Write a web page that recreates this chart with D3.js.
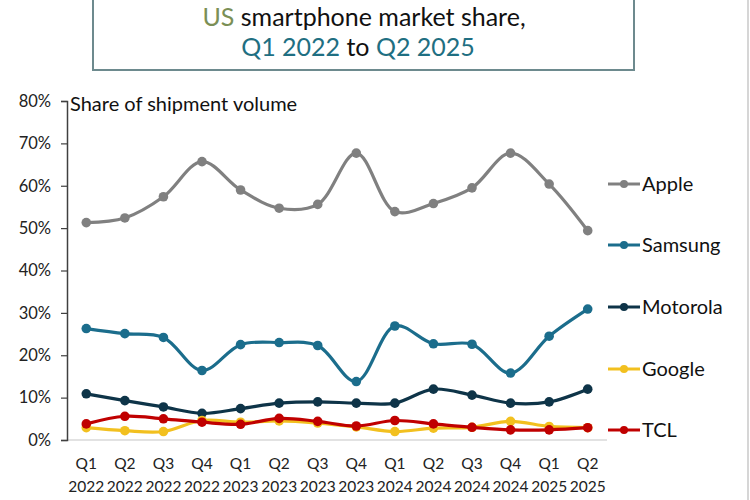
<!DOCTYPE html>
<html>
<head>
<meta charset="utf-8">
<script src="https://cdn.jsdelivr.net/npm/d3@7"></script>
<style>
  body { margin: 0; background: #fff; }
  svg { display: block; font-family: Lato, "Open Sans", sans-serif; }
</style>
</head>
<body>
<svg></svg>
<script>
const size = { w: 750, h: 500 };
const margin = { t: 101, r: 143, b: 60, l: 67 };

// data (% of shipments)
const quarters = ["Q1", "Q2", "Q3", "Q4", "Q1", "Q2", "Q3", "Q4", "Q1", "Q2", "Q3", "Q4", "Q1", "Q2"];
const years = ["2022", "2022", "2022", "2022", "2023", "2023", "2023", "2023", "2024", "2024", "2024", "2024", "2025", "2025"];
const brands = ["Apple", "Samsung", "Motorola", "Google", "TCL"];
const apple = [51.3, 52.4, 57.4, 65.7, 59.0, 54.7, 55.6, 67.7, 53.9, 55.8, 59.5, 67.7, 60.4, 49.4];
const samsung = [26.3, 25.1, 24.2, 16.4, 22.5, 23.0, 22.3, 13.8, 26.9, 22.7, 22.6, 15.8, 24.5, 30.9];
const motorola = [10.9, 9.3, 7.8, 6.3, 7.4, 8.7, 9.0, 8.7, 8.7, 12.0, 10.6, 8.7, 9.0, 12.0];
const google = [2.9, 2.2, 2.0, 4.6, 4.2, 4.5, 4.0, 3.1, 2.0, 2.8, 3.0, 4.4, 3.2, 2.9];
const tcl = [3.8, 5.6, 5.0, 4.2, 3.7, 5.1, 4.4, 3.3, 4.6, 3.8, 3.0, 2.4, 2.4, 2.9];
const yTicks = [0, 10, 20, 30, 40, 50, 60, 70, 80];
const colors = ["#808080", "#1b6d8c", "#0e3448", "#f2c01f", "#c00000"];

const seriesList = [apple, samsung, motorola, google, tcl];

const svg = d3.select("svg").attr("width", size.w).attr("height", size.h);

// outer frame edge on the right
svg.append("line")
  .attr("x1", 748).attr("x2", 748).attr("y1", 0).attr("y2", size.h)
  .attr("stroke", "#c8c8c8").attr("stroke-width", 1.5);

// title box
const titleG = svg.append("g");
titleG.append("rect")
  .attr("x", 93).attr("y", -5).attr("width", 541).attr("height", 75)
  .attr("fill", "none").attr("stroke", "#6d8a8e").attr("stroke-width", 2);

const t1 = titleG.append("text").attr("x", 364).attr("y", 26)
  .attr("text-anchor", "middle").attr("font-size", 25);
t1.append("tspan").attr("fill", "#7b8f56").text("US");
t1.append("tspan").attr("fill", "#111").text(" smartphone market share,");

const t2 = titleG.append("text").attr("x", 358).attr("y", 56)
  .attr("text-anchor", "middle").attr("font-size", 25);
t2.append("tspan").attr("fill", "#1f6f82").text("Q1 2022");
t2.append("tspan").attr("fill", "#111").text(" to ");
t2.append("tspan").attr("fill", "#1f6f82").text("Q2 2025");

// scales
const x = d3.scaleBand()
  .domain(d3.range(quarters.length))
  .range([margin.l, size.w - margin.r]);

const y = d3.scaleLinear()
  .domain([0, 80])
  .range([size.h - margin.b, margin.t]);

// x baseline
svg.append("line")
  .attr("x1", x.range()[0]).attr("x2", x.range()[1])
  .attr("y1", y(0)).attr("y2", y(0))
  .attr("stroke", "#d9d9d9").attr("stroke-width", 1.5);

// y axis
const yAxis = svg.append("g")
  .attr("transform", `translate(${margin.l},0)`)
  .call(d3.axisLeft(y).tickValues(yTicks).tickSize(6).tickFormat(d => d + "%"));
yAxis.select(".domain").attr("stroke", "#404040").attr("stroke-width", 1.5);
yAxis.selectAll(".tick line").attr("stroke", "#404040").attr("stroke-width", 1.2);
yAxis.selectAll(".tick text")
  .attr("font-family", "Lato, sans-serif")
  .attr("font-size", 16.5).attr("fill", "#222").attr("x", -16);

svg.append("text")
  .attr("x", margin.l + 3).attr("y", 111)
  .attr("font-size", 20).attr("fill", "#111")
  .text("Share of shipment volume");

// x labels (two lines)
const xLab = svg.append("g").selectAll("text")
  .data(quarters)
  .join("text")
  .attr("x", (d, i) => x(i) + x.bandwidth() / 2)
  .attr("text-anchor", "middle")
  .attr("font-size", 15.5).attr("fill", "#222");
xLab.append("tspan").attr("y", 469).text(d => d);
xLab.append("tspan")
  .attr("x", (d, i) => x(i) + x.bandwidth() / 2)
  .attr("y", 492).text((d, i) => years[i]);

// lines
const line = d3.line()
  .x((d, i) => x(i) + x.bandwidth() / 2)
  .y(d => y(d))
  .curve(d3.curveCatmullRom.alpha(0.5));

const seriesG = svg.append("g").selectAll("g")
  .data(seriesList)
  .join("g");

seriesG.append("path")
  .attr("d", d => line(d))
  .attr("fill", "none")
  .attr("stroke", (d, i) => colors[i])
  .attr("stroke-width", 3.2);

seriesG.each(function (d, si) {
  d3.select(this).selectAll("circle")
    .data(d)
    .join("circle")
    .attr("cx", (v, i) => x(i) + x.bandwidth() / 2)
    .attr("cy", v => y(v))
    .attr("r", 4.8)
    .attr("fill", colors[si]);
});

// legend
const legendY = [184, 245, 307, 369, 430];
const legend = svg.append("g").selectAll("g")
  .data(brands)
  .join("g")
  .attr("transform", (d, i) => `translate(608,${legendY[i]})`);
legend.append("line")
  .attr("x1", 0).attr("x2", 32)
  .attr("stroke", (d, i) => colors[i]).attr("stroke-width", 3);
legend.append("circle")
  .attr("cx", 16).attr("r", 4)
  .attr("fill", (d, i) => colors[i]);
legend.append("text")
  .attr("x", 34).attr("dy", "0.35em")
  .attr("font-size", 20).attr("fill", "#111")
  .text(d => d);
</script>
</body>
</html>
